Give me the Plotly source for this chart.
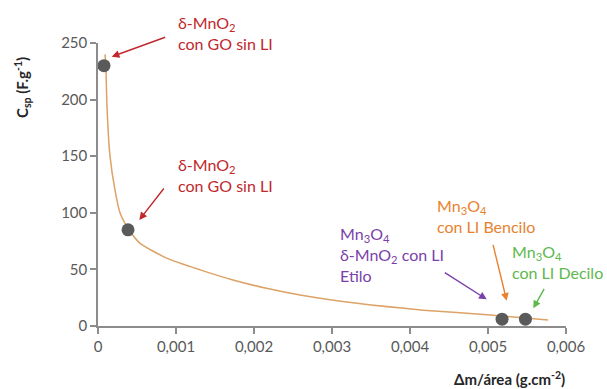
import plotly.graph_objects as go

# ---- data ----
curve_x = [0.00009, 0.0001, 0.000115, 0.000154, 0.000218, 0.000282, 0.000397,
           0.00054, 0.00088, 0.00131, 0.00173, 0.00216, 0.00259, 0.00332, 0.00417, 0.00503, 0.00577]
curve_y = [240, 231, 194, 150, 120, 100, 85, 73, 60, 49.6, 40.7, 33.3, 27.4, 20, 14, 9.7, 5.3]

point_x = [0.000077, 0.000385, 0.00518, 0.00548]
point_y = [230, 85, 6, 6]

x_tickvals = [0, 0.001, 0.002, 0.003, 0.004, 0.005, 0.006]
x_ticktext = ["0", "0,001", "0,002", "0,003", "0,004", "0,005", "0,006"]
y_tickvals = [0, 50, 100, 150, 200, 250]

labels = [
    "δ-MnO<sub>2</sub><br>con GO sin LI",
    "δ-MnO<sub>2</sub><br>con GO sin LI",
    "Mn<sub>3</sub>O<sub>4</sub><br>δ-MnO<sub>2</sub> con LI<br>Etilo",
    "Mn<sub>3</sub>O<sub>4</sub><br>con LI Bencilo",
    "Mn<sub>3</sub>O<sub>4</sub><br>con LI Decilo",
]

# ---- layout geometry (pixels) ----
W, H = 607, 389
L, R, T, B = 98, 41, 43, 63
PW, PH = W - L - R, H - T - B

def px(xp):
    return (xp - L) / PW

def py(yp):
    return (H - B - yp) / PH

FONT = "Lato, Open Sans, sans-serif"
RED = "#C0282D"
PURPLE = "#7A3FAA"
ORANGE = "#E8822E"
GREEN = "#5DB84E"

fig = go.Figure()
fig.add_trace(go.Scatter(x=curve_x, y=curve_y, mode="lines",
                         line=dict(color="#DDA267", width=1.5, shape="spline", smoothing=0.6),
                         hoverinfo="skip", showlegend=False))
fig.add_trace(go.Scatter(x=point_x, y=point_y, mode="markers",
                         marker=dict(color="#5A5A5A", size=13, line=dict(width=0)),
                         showlegend=False))

anns = []
# text labels: (label idx, left px, center px, colour)
text_pos = [
    (0, 176, 33, RED),
    (1, 176, 175, RED),
    (2, 338, 254, PURPLE),
    (3, 435, 216, ORANGE),
    (4, 510, 262, GREEN),
]
for i, xl, yc, col in text_pos:
    anns.append(dict(text=labels[i], xref="paper", yref="paper", x=px(xl), y=py(yc),
                     xanchor="left", yanchor="middle", align="left", showarrow=False,
                     font=dict(family=FONT, size=16, color=col)))

# arrows: tip px, tail px, colour
arrows = [
    ((111.7, 56.7), (166.7, 36.7), RED),
    ((139.3, 220.0), (165.0, 187.0), RED),
    ((486.7, 299.3), (443.3, 271.7), PURPLE),
    ((506.7, 300.7), (492.7, 243.3), ORANGE),
    ((533.3, 308.3), (545.0, 287.3), GREEN),
]
for (tx, ty), (sx, sy), col in arrows:
    anns.append(dict(text="", xref="paper", yref="paper", x=px(tx), y=py(ty),
                     ax=sx - tx, ay=sy - ty, showarrow=True, arrowhead=2, arrowsize=1.1,
                     arrowwidth=1.4, arrowcolor=col))

# axis titles
anns.append(dict(text="<b>Δm/área (g.cm<sup>-2</sup>)</b>", xref="paper", yref="paper",
                 x=px(567), y=py(378), xanchor="right", yanchor="middle", showarrow=False,
                 font=dict(family=FONT, size=15, color="#262626")))
anns.append(dict(text="<b>C<sub>sp</sub> (F.g<sup>-1</sup>)</b>", xref="paper", yref="paper",
                 x=px(22), y=py(88), xanchor="center", yanchor="middle", textangle=-90,
                 showarrow=False, font=dict(family=FONT, size=15, color="#262626")))

fig.update_layout(
    width=W, height=H,
    margin=dict(l=L, r=R, t=T, b=B),
    paper_bgcolor="white", plot_bgcolor="white",
    separators=", ",
    annotations=anns,
    font=dict(family=FONT, size=15, color="#595959"),
)
axis_style = dict(showgrid=False, zeroline=False, showline=True, linecolor="#8C8C8C", linewidth=1.5,
                  ticks="outside", ticklen=6, tickcolor="#8C8C8C", tickwidth=1.5,
                  tickfont=dict(family=FONT, size=15, color="#595959"))
fig.update_xaxes(range=[0, 0.006], tickvals=x_tickvals, ticktext=x_ticktext, **axis_style)
fig.update_yaxes(range=[0, 250], tickvals=y_tickvals, **axis_style)

fig.write_html("out.html", config={"displayModeBar": False},
               post_script="document.body.style.margin='0';")
